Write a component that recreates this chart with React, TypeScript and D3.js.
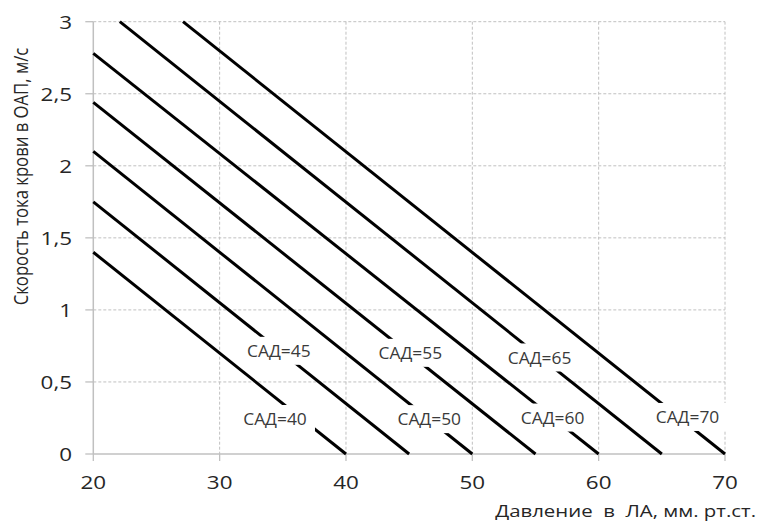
import React from "react";
import * as d3 from "d3";

// Series: САД level, line end points [pressure, velocity]
const sadLevels = [40, 45, 50, 55, 60, 65, 70];
const lineStartX = [20, 20, 20, 20, 20, 22.1, 27.1];
const lineStartY = [1.4, 1.75, 2.1, 2.44, 2.78, 3, 3];
const lineEndX = [40, 45, 50, 55, 60, 65, 70];
const lineEndY = [0, 0, 0, 0, 0, 0, 0];
// Label anchors (data units)
const labelX = [34.38, 34.68, 46.59, 45.09, 56.35, 55.32, 67.03];
const labelY = [0.243, 0.716, 0.242, 0.702, 0.253, 0.67, 0.257];

const xTicks = [20, 30, 40, 50, 60, 70];
const yTicks = [0, 0.5, 1, 1.5, 2, 2.5, 3];
const yTickLabels = ["0", "0,5", "1", "1,5", "2", "2,5", "3"];
const xTitle = "Давление  в  ЛА, мм. рт.ст.";
const yTitle = "Скорость тока крови в ОАП, м/с";

const W = 758;
const H = 521;
const FONT = "'Open Sans', sans-serif";

export default function App() {
  const x = d3.scaleLinear().domain([20, 70]).range([93.3, 725]);
  const y = d3.scaleLinear().domain([0, 3]).range([454, 21.7]);
  const line = d3
    .line<[number, number]>()
    .x((d) => x(d[0]))
    .y((d) => y(d[1]));
  const grid = "#c0c0c0";
  return (
    <svg
      width={W}
      height={H}
      style={{ position: "absolute", left: 0, top: 0, background: "#fff" }}
      fontFamily={FONT}
    >
      <rect width={W} height={H} fill="#fff" />
      {/* horizontal gridlines */}
      {yTicks.map((t) =>
        t === 0 ? null : (
          <line
            key={"hy" + t}
            x1={x(20)}
            x2={x(70)}
            y1={y(t)}
            y2={y(t)}
            stroke={grid}
            strokeWidth={1}
            strokeDasharray="3,2"
          />
        )
      )}
      {xTicks.map((t) =>
        t === 20 ? null : (
          <line
            key={"vx" + t}
            x1={x(t)}
            x2={x(t)}
            y1={y(3)}
            y2={y(0)}
            stroke={grid}
            strokeWidth={1}
            strokeDasharray="3,2"
          />
        )
      )}
      {/* tick marks */}
      {yTicks.map((t) => (
        <line
          key={"ty" + t}
          x1={x(20) - 8}
          x2={x(20)}
          y1={y(t)}
          y2={y(t)}
          stroke={grid}
          strokeWidth={1.3}
        />
      ))}
      {xTicks.map((t) => (
        <line
          key={"tx" + t}
          x1={x(t)}
          x2={x(t)}
          y1={y(0)}
          y2={y(0) + 7}
          stroke={grid}
          strokeWidth={1.3}
        />
      ))}
      {/* axes */}
      <line x1={x(20)} x2={x(20)} y1={y(3)} y2={y(0)} stroke={grid} strokeWidth={1.5} />
      <line x1={x(20)} x2={x(70)} y1={y(0)} y2={y(0)} stroke={grid} strokeWidth={1.5} />

      {/* series */}
      {sadLevels.map((s, i) => (
        <path
          key={"l" + s}
          d={
            line([
              [lineStartX[i], lineStartY[i]],
              [lineEndX[i], lineEndY[i]],
            ]) || ""
          }
          stroke="#000"
          strokeWidth={3}
          fill="none"
        />
      ))}

      {/* labels */}
      {sadLevels.map((s, i) => (
        <g key={"lab" + s} transform={`translate(${x(labelX[i])},${y(labelY[i])})`}>
          <rect x={-40} y={-14} width={80} height={28} fill="#fff" />
          <text
            transform="scale(1.06,1)"
            textAnchor="middle"
            dominantBaseline="central"
            fontSize={16.4}
            fill="#3a3a3a"
          >
            {"САД=" + s}
          </text>
        </g>
      ))}

      {/* tick labels */}
      {yTicks.map((t, i) => (
        <text
          key={"yl" + t}
          transform={`translate(72,${y(t)}) scale(1.18,1)`}
          textAnchor="end"
          dominantBaseline="central"
          fontSize={19}
          fill="#262626"
        >
          {yTickLabels[i]}
        </text>
      ))}
      {xTicks.map((t) => (
        <text
          key={"xl" + t}
          transform={`translate(${x(t)},482) scale(1.18,1)`}
          textAnchor="middle"
          dominantBaseline="central"
          fontSize={19}
          fill="#262626"
        >
          {t}
        </text>
      ))}

      {/* titles */}
      <text
        transform="translate(756,517) scale(1.2,1)"
        textAnchor="end"
        fontSize={17}
        fill="#262626"
        xmlSpace="preserve"
        style={{ whiteSpace: "pre" }}
      >
        {xTitle}
      </text>
      <text
        transform="translate(20,176.5) rotate(-90) scale(1,1.18)"
        textAnchor="middle"
        dominantBaseline="central"
        fontSize={16.7}
        fill="#262626"
      >
        {yTitle}
      </text>
    </svg>
  );
}
